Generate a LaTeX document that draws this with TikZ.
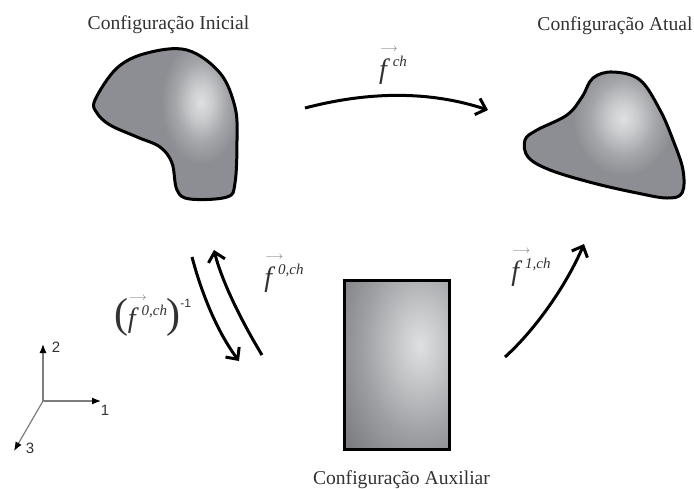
\documentclass[tikz,border=0pt]{standalone}
\usepackage{fontspec}
\setmainfont{Liberation Serif}
\setsansfont{Liberation Sans}
\usetikzlibrary{arrows.meta}
\definecolor{bodygray}{RGB}{141,142,147}
\definecolor{rectgray}{RGB}{124,125,130}
\definecolor{hilite}{RGB}{222,224,225}
\definecolor{txtgray}{RGB}{50,50,50}
\definecolor{vecgray}{RGB}{105,105,105}
\definecolor{axisgray}{RGB}{125,125,125}
\colorlet{hiA}{hilite!75!bodygray}
\colorlet{hiB}{hilite!30!bodygray}
\colorlet{hiC}{hilite!75!rectgray}
\colorlet{hiD}{hilite!35!rectgray}
\pgfdeclareradialshading{spotbody}{\pgfpoint{0bp}{0bp}}{color(0bp)=(hilite); color(7bp)=(hiA); color(16bp)=(hiB); color(25bp)=(bodygray); color(50bp)=(bodygray)}
\pgfdeclareradialshading{spotrect}{\pgfpoint{0bp}{0bp}}{color(0bp)=(hilite); color(6bp)=(hiC); color(15bp)=(hiD); color(25bp)=(rectgray); color(50bp)=(rectgray)}
\newcommand{\fvsym}[1]{\mbox{\rlap{\raisebox{27pt}{\kern1pt\color{vecgray}\fontsize{11}{11}\selectfont$\longrightarrow$}}{\color{txtgray}\fontsize{28}{28}\selectfont\itshape f}\kern6pt\raisebox{12pt}{\color{txtgray}\fontsize{15}{15}\selectfont\itshape #1}}}
\tikzset{
  title/.style={font=\fontsize{19.6}{20}\selectfont, text=txtgray, inner sep=0pt, anchor=base},
  maplabel/.style={inner sep=0pt, text=txtgray},
  outline/.style={draw=black, line width=3pt},
  maparrow/.style={line width=3pt, -{Straight Barb[length=9pt,width=17pt,line width=3pt]}},
  axisline/.style={draw=axisgray, line width=1.2pt, -{Latex[length=9pt,width=7pt,color=black]}},
  axislabel/.style={font=\sffamily\fontsize{15}{15}\selectfont, text=txtgray, inner sep=0pt}
}
\begin{document}
\begin{tikzpicture}[x=1pt,y=-1pt]
\useasboundingbox (0,0) rectangle (694,488);
% titles
\node[title] (tInit) at (168.5,29) {Configuração Inicial};
\node[title] (tAtual) at (615,30) {Configuração Atual};
\node[title] (tAux) at (401.5,484) {Configuração Auxiliar};
% initial body
\def\bodyA{plot[smooth cycle, tension=0.6] coordinates {(187,50) (220,73) (235,107) (237,140) (235,183) (227,197) (190,199) (177,190) (172,163) (160,147) (137,137) (110,125) (97,113) (95,100) (117,68) (147,53)}}
\begin{scope}
  \clip \bodyA;
  \fill[bodygray] (80,40) rectangle (250,210);
  \shade[shading=spotbody] (201,102) ellipse [x radius=40pt, y radius=62pt];
\end{scope}
\draw[outline] \bodyA;
% current body
\def\bodyB{plot[smooth cycle, tension=0.6] coordinates {(613,72) (640,80) (660,110) (673,140) (683,170) (682,193) (667,198) (637,193) (593,183) (550,170) (528,157) (525,140) (537,130) (567,115) (582,97) (593,78)}}
\begin{scope}
  \clip \bodyB;
  \fill[bodygray] (510,60) rectangle (694,210);
  \shade[shading=spotbody] (623,118) ellipse [x radius=50pt, y radius=58pt];
\end{scope}
\draw[outline] \bodyB;
% auxiliary body
\begin{scope}
  \clip (344,280) rectangle (449,449);
  \fill[rectgray] (344,280) rectangle (449,449);
  \shade[shading=spotrect] (420,345) ellipse [x radius=95pt, y radius=150pt];
\end{scope}
\draw[line width=3pt] (344,280) rectangle (449,449);
% connector end points
\coordinate (chS) at (305,108);
\coordinate (chE) at (488,110);
\coordinate (invS) at (192,257);
\coordinate (invE) at (239,361);
\coordinate (zS) at (262,355);
\coordinate (zE) at (214,250);
\coordinate (oS) at (505,357);
\coordinate (oE) at (584,244);
% arrows
\draw[maparrow] (chS) .. controls (370,91) and (430,91) .. (chE);
\draw[maparrow] (invS) .. controls (201,291) and (216,330) .. (invE);
\draw[maparrow] (zS) .. controls (242,322) and (222,282) .. (zE);
\draw[maparrow] (oS) .. controls (535,330) and (566,286) .. (oE);
% labels
\node[maplabel] (lch) at (393,66) {\fvsym{ch}};
\node[maplabel] (l0) at (284,274) {\fvsym{0,ch}};
\node[maplabel] (l1) at (531,268) {\fvsym{1,ch}};
\node[maplabel] (linv) at (153,316) {\color{txtgray}\fontsize{42}{42}\selectfont(\kern-1pt\fvsym{0,ch}\kern-0.5pt\fontsize{42}{42}\selectfont)\raisebox{20pt}{\sffamily\fontsize{12}{12}\selectfont -1}};
% axes
\coordinate (O) at (43,401);
\coordinate (e1) at (101,401);
\coordinate (e2) at (43,344);
\coordinate (e3) at (14,451);
\draw[axisline] (O) -- (e1);
\draw[axisline] (O) -- (e2);
\draw[axisline] (O) -- (e3);
\node[axislabel] (n1) at (105,410) {1};
\node[axislabel] (n2) at (56,347) {2};
\node[axislabel] (n3) at (30,448) {3};
\end{tikzpicture}
\end{document}
